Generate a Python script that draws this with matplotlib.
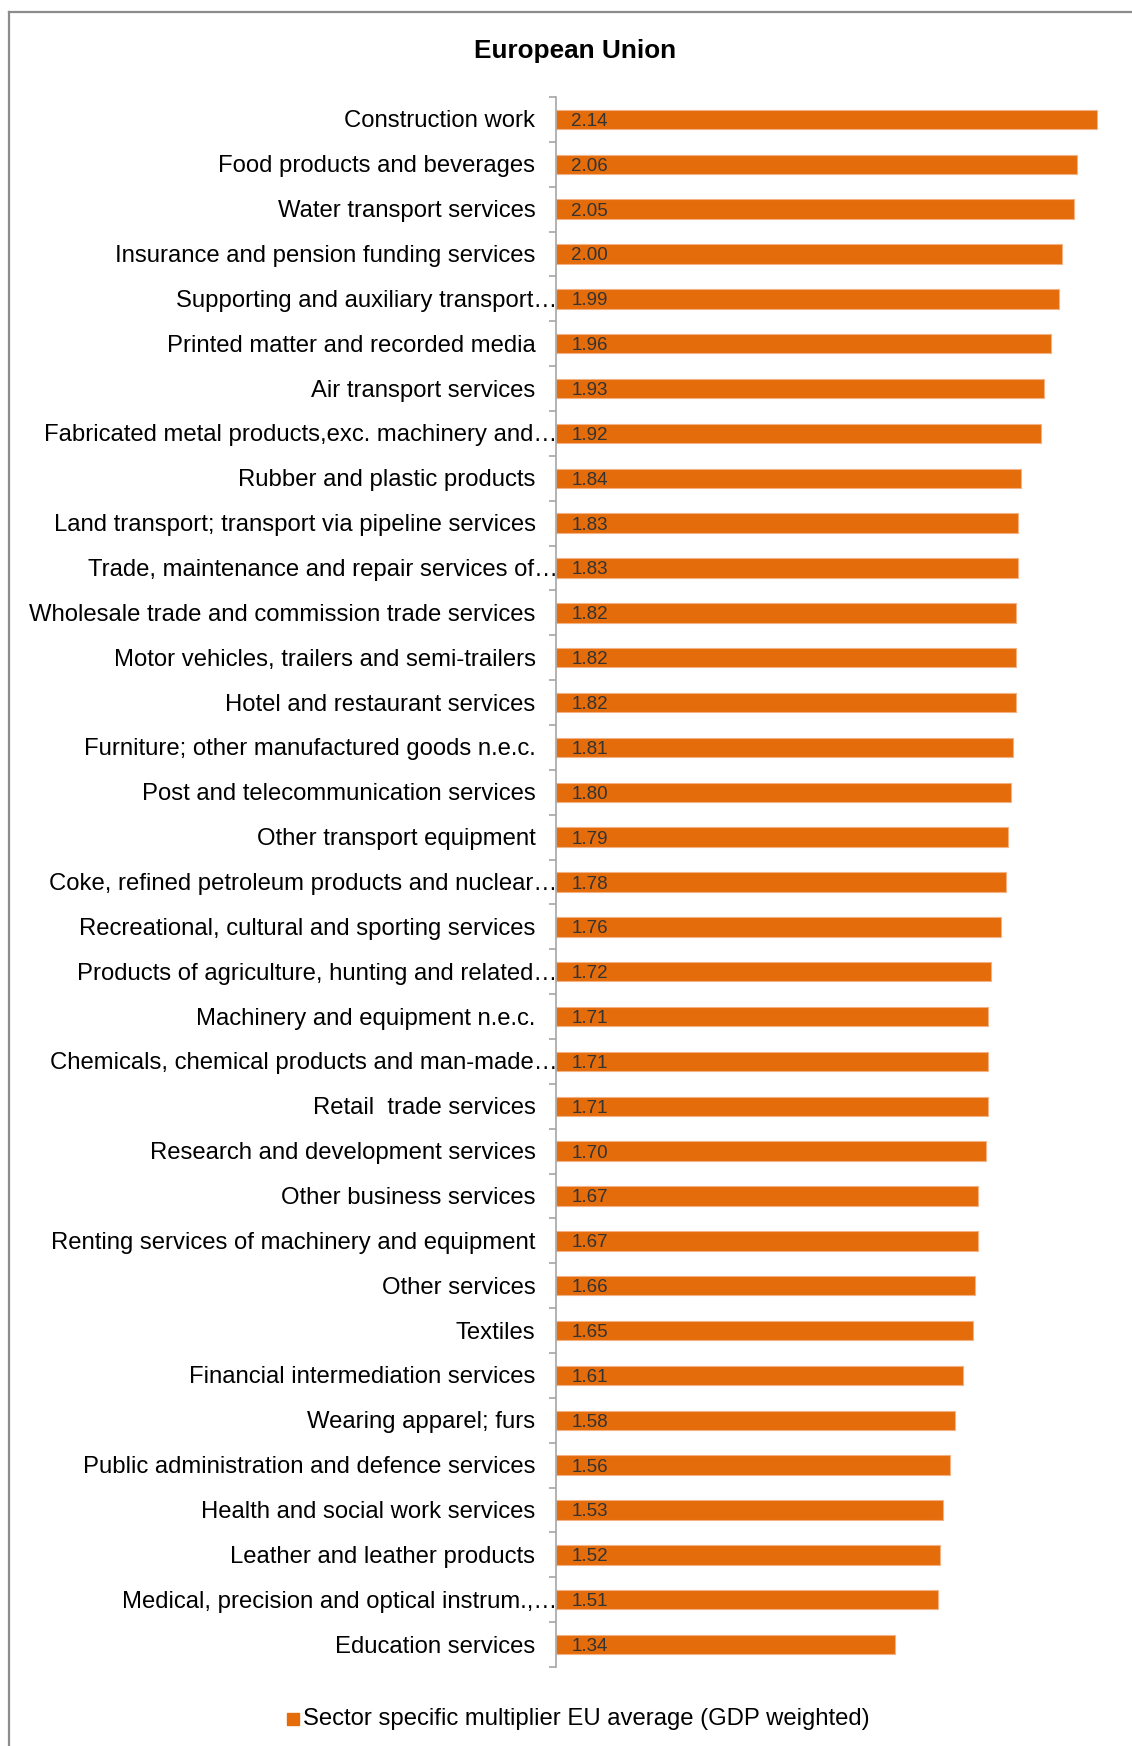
import numpy as np
import matplotlib.pyplot as plt
from matplotlib.lines import Line2D
from matplotlib.patches import Rectangle

plt.rcParams['font.family'] = ['Liberation Sans', 'DejaVu Sans']

# sectors, top to bottom
sectors = [
    "Construction work",
    "Food products and beverages",
    "Water transport services",
    "Insurance and pension funding services",
    "Supporting and auxiliary transport\u2026",
    "Printed matter and recorded media",
    "Air transport services",
    "Fabricated metal products,exc. machinery and\u2026",
    "Rubber and plastic products",
    "Land transport; transport via pipeline services",
    "Trade, maintenance and repair services of\u2026",
    "Wholesale trade and commission trade services",
    "Motor vehicles, trailers and semi-trailers",
    "Hotel and restaurant services",
    "Furniture; other manufactured goods n.e.c.",
    "Post and telecommunication services",
    "Other transport equipment",
    "Coke, refined petroleum products and nuclear\u2026",
    "Recreational, cultural and sporting services",
    "Products of agriculture, hunting and related\u2026",
    "Machinery and equipment n.e.c.",
    "Chemicals, chemical products and man-made\u2026",
    "Retail  trade services",
    "Research and development services",
    "Other business services",
    "Renting services of machinery and equipment",
    "Other services",
    "Textiles",
    "Financial intermediation services",
    "Wearing apparel; furs",
    "Public administration and defence services",
    "Health and social work services",
    "Leather and leather products",
    "Medical, precision and optical instrum.,\u2026",
    "Education services",
]

multiplier = [
    2.14, 2.06, 2.05, 2.00, 1.99, 1.96, 1.93, 1.92, 1.84, 1.83,
    1.83, 1.82, 1.82, 1.82, 1.81, 1.80, 1.79, 1.78, 1.76, 1.72,
    1.71, 1.71, 1.71, 1.70, 1.67, 1.67, 1.66, 1.65, 1.61, 1.58,
    1.56, 1.53, 1.52, 1.51, 1.34,
]

series_name = "Sector specific multiplier EU average (GDP weighted)"
bar_color = '#E46C0A'

W, H = 1132, 1746
fig = plt.figure(figsize=(W / 100, H / 100), dpi=100)

# frame of the chart area (top and left edges)
fig.add_artist(Line2D([9 / W, 9 / W], [0, 1 - 12 / H], color='#8c8c8c', lw=1.6))
fig.add_artist(Line2D([9 / W, 1], [1 - 12 / H, 1 - 12 / H], color='#8c8c8c', lw=1.6))

ax = fig.add_axes([555.5 / W, 1 - 1667 / H, 2.2 * 253 / W, 1570 / H])

y = np.arange(len(sectors))
ax.barh(y, multiplier, height=0.43, color=bar_color,
        edgecolor='#F4B183', linewidth=0.8)

ax.set_xlim(0, 2.2)
ax.set_ylim(len(sectors) - 0.5, -0.5)

for s in ['top', 'right', 'bottom']:
    ax.spines[s].set_visible(False)
ax.spines['left'].set_color('#a6a6a6')
ax.spines['left'].set_linewidth(1.2)
ax.set_xticks([])
ax.set_yticks(np.arange(len(sectors) + 1) - 0.5)
ax.set_yticklabels([])
ax.tick_params(axis='y', length=5, width=1.2, color='#a6a6a6', direction='out')

# category labels, truncated ones run up to the axis
for i, name in enumerate(sectors):
    off = 2 if name.endswith('\u2026') else -20
    ax.annotate(name, xy=(0, i), xycoords=('axes fraction', 'data'),
                xytext=(off, -2), textcoords='offset pixels',
                ha='right', va='center', fontsize=17.2, color='black')

# value labels inside the bars
for i, v in enumerate(multiplier):
    ax.annotate(f"{v:.2f}", xy=(0, i), xycoords='data',
                xytext=(16, -2), textcoords='offset pixels',
                ha='left', va='center', fontsize=13.5, color='#333333')

fig.text(575 / W, 1 - 51 / H, "European Union", ha='center', va='center',
         fontsize=18.8, fontweight='bold')

# legend
fig.add_artist(Rectangle((287 / W, 1 - 1725 / H), 12 / W, 12 / H,
                         transform=fig.transFigure, color=bar_color))
fig.text(303 / W, 1 - 1719 / H, series_name, ha='left', va='center',
         fontsize=17.2)

fig.savefig('out.png', dpi=100)
